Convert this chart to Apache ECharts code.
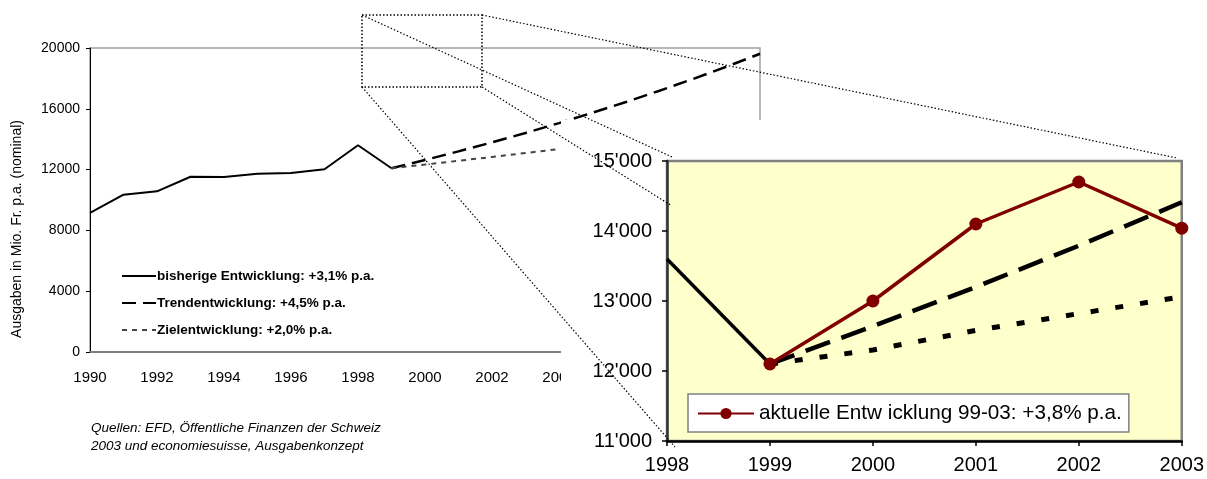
<!DOCTYPE html>
<html>
<head>
<meta charset="utf-8">
<script src="https://cdn.jsdelivr.net/npm/echarts@6/dist/echarts.min.js"></script>
<style>
html,body{margin:0;padding:0;background:#fff;}
#c{width:1207px;height:479px;}
</style>
</head>
<body>
<div id="c"></div>
<script>
// ---- data: main chart ----
const histYears = [1990,1991,1992,1993,1994,1995,1996,1997,1998,1999];
const histValues = [9160,10350,10570,11530,11510,11730,11780,12020,13600,12090];
const trendYears = [1999,2000,2001,2002,2003,2004,2005,2006,2007,2008,2009,2010];
const trendValues = [12090,12630,13200,13790,14410,15060,15740,16450,17190,17960,18770,19620];
const zielYears = [1999,2000,2001,2002,2003,2004];
const zielValues = [12090,12330,12580,12830,13090,13350];
const mainYTicks = [0,4000,8000,12000,16000,20000];
const mainXTicks = [1990,1992,1994,1996,1998,2000,2002,2004,2006,2008,2010];

// ---- data: inset (zoom) chart ----
const insetYears = [1998,1999,2000,2001,2002,2003];
const insetHist = [13600,12100,null,null,null,null];
const insetTrend = [null,12100,12640,13200,13790,14410];
const insetZiel = [null,12100,12300,12580,12820,13060];
const insetAktuell = [null,12100,13000,14100,14700,14040];
const insetYTicks = [11000,12000,13000,14000,15000];

const names = {
  hist: 'bisherige Entwicklung: +3,1% p.a.',
  trend: 'Trendentwicklung: +4,5% p.a.',
  ziel: 'Zielentwicklung: +2,0% p.a.',
  akt: 'aktuelle Entw icklung 99-03: +3,8% p.a.'
};
const pairs = (xs, ys) => xs.map((x, i) => [x, ys[i]]).filter(p => p[1] !== null);
const FONT = 'Arial, "Liberation Sans", sans-serif';
const plain = v => String(v);

const chart = echarts.init(document.getElementById('c'), null, {renderer: 'canvas'});
chart.setOption({
  animation: false,
  backgroundColor: '#fff',
  textStyle: {fontFamily: FONT, color: '#000'},
  grid: [
    {left: 90, top: 48, width: 670, height: 304, show: true, borderColor: '#a0a0a0', borderWidth: 1.5, backgroundColor: 'transparent', z: 0},
    {left: 667, top: 161, width: 515, height: 280, show: true, borderColor: '#808080', borderWidth: 2.5, backgroundColor: '#FFFFCC', z: 10}
  ],
  xAxis: [
    {gridIndex: 0, type: 'value', min: mainXTicks[0], max: mainXTicks[mainXTicks.length-1], interval: 2,
     axisLine: {show: true, lineStyle: {color: '#808080', width: 2}}, axisTick: {show: false},
     splitLine: {show: false},
     axisLabel: {fontSize: 15, color: '#000', margin: 18, fontFamily: FONT, formatter: plain}},
    {gridIndex: 1, type: 'value', min: insetYears[0], max: insetYears[insetYears.length-1], interval: 1, z: 11,
     axisLine: {show: true, onZero: false, lineStyle: {color: '#000', width: 2.5}},
     axisTick: {show: true, length: 5, lineStyle: {color: '#000', width: 1.5}},
     splitLine: {show: false},
     axisLabel: {fontSize: 20, color: '#000', margin: 14, fontFamily: FONT, formatter: plain}}
  ],
  yAxis: [
    {gridIndex: 0, type: 'value', min: mainYTicks[0], max: mainYTicks[mainYTicks.length-1], interval: 4000,
     axisLine: {show: true, lineStyle: {color: '#000', width: 1}},
     axisTick: {show: true, length: 4, lineStyle: {color: '#000'}},
     splitLine: {show: false},
     axisLabel: {fontSize: 14, color: '#000', margin: 10, fontFamily: FONT, formatter: plain}},
    {gridIndex: 1, type: 'value', min: insetYTicks[0], max: insetYTicks[insetYTicks.length-1], interval: 1000, z: 11,
     axisLine: {show: true, onZero: false, lineStyle: {color: '#333', width: 2.5}},
     axisTick: {show: true, length: 5, lineStyle: {color: '#000', width: 1.5}},
     splitLine: {show: false},
     axisLabel: {fontSize: 20, color: '#000', margin: 15, fontFamily: FONT,
       formatter: v => String(v).replace(/(\d+)(\d{3})$/, "$1'$2")}}
  ],
  legend: [
    {orient: 'vertical', left: 116, top: 264, itemWidth: 34, itemHeight: 10, itemGap: 13,
     data: [names.hist, names.trend, names.ziel], selectedMode: false,
     itemStyle: {opacity: 0},
     textStyle: {fontSize: 13.5, fontWeight: 'bold', color: '#000', fontFamily: FONT, padding: [0,0,0,-4]}},
    {left: 688, top: 394, itemWidth: 56, itemHeight: 14, padding: [9, 7, 8, 9],
     data: [names.akt], selectedMode: false, backgroundColor: '#fff',
     borderColor: '#808080', borderWidth: 1.5, z: 13,
     textStyle: {fontSize: 20.7, color: '#000', fontFamily: FONT}}
  ],
  series: [
    {name: names.hist, type: 'line', xAxisIndex: 0, yAxisIndex: 0, data: pairs(histYears, histValues),
     symbol: 'none', lineStyle: {color: '#000', width: 2}, itemStyle: {color: '#000'}, z: 2},
    {name: names.trend, type: 'line', xAxisIndex: 0, yAxisIndex: 0, data: pairs(trendYears, trendValues),
     symbol: 'none', lineStyle: {color: '#000', width: 2.5, type: [14, 7]}, itemStyle: {color: '#000'}, z: 2},
    {name: names.ziel, type: 'line', xAxisIndex: 0, yAxisIndex: 0, data: pairs(zielYears, zielValues),
     symbol: 'none', lineStyle: {color: '#444', width: 2, type: [5, 5]}, itemStyle: {color: '#444'}, z: 2},

    {name: 'inset-hist', type: 'line', xAxisIndex: 1, yAxisIndex: 1, data: pairs(insetYears, insetHist),
     symbol: 'none', lineStyle: {color: '#000', width: 3.5}, z: 12},
    {name: 'inset-trend', type: 'line', xAxisIndex: 1, yAxisIndex: 1, data: pairs(insetYears, insetTrend),
     symbol: 'none', lineStyle: {color: '#000', width: 4.5, type: [26, 12]}, z: 12},
    {name: 'inset-ziel', type: 'line', xAxisIndex: 1, yAxisIndex: 1, data: pairs(insetYears, insetZiel),
     symbol: 'none', lineStyle: {color: '#000', width: 5, type: [8, 17]}, z: 12},
    {name: names.akt, type: 'line', xAxisIndex: 1, yAxisIndex: 1, data: pairs(insetYears, insetAktuell),
     symbol: 'circle', symbolSize: 13, lineStyle: {color: '#800000', width: 3.5},
     itemStyle: {color: '#800000'}, z: 13}
  ],
  graphic: [
    {type: 'rect', shape: {x: 561, y: 120, width: 660, height: 370}, style: {fill: '#fff'}, z: 5, silent: true},
    {type: 'rect', shape: {x: 362, y: 15, width: 120, height: 72}, style: {fill: 'none', stroke: '#000', lineWidth: 1.5, lineDash: [1.5, 2]}, z: 30, silent: true},
    {type: 'line', shape: {x1: 362, y1: 15, x2: 672, y2: 157}, style: {stroke: '#000', lineWidth: 1.2, lineDash: [1.5, 2]}, z: 30, silent: true},
    {type: 'line', shape: {x1: 482, y1: 15, x2: 1177, y2: 158}, style: {stroke: '#000', lineWidth: 1.2, lineDash: [1.5, 2]}, z: 30, silent: true},
    {type: 'line', shape: {x1: 362, y1: 87, x2: 675, y2: 447}, style: {stroke: '#000', lineWidth: 1.2, lineDash: [1.5, 2]}, z: 30, silent: true},
    {type: 'line', shape: {x1: 482, y1: 87, x2: 672, y2: 206}, style: {stroke: '#000', lineWidth: 1.2, lineDash: [1.5, 2]}, z: 30, silent: true},
    {type: 'text', x: 17, y: 229, rotation: Math.PI / 2, z: 3,
     style: {text: 'Ausgaben in Mio. Fr. p.a. (nominal)', fontSize: 14, fontFamily: FONT, fill: '#000', align: 'center', verticalAlign: 'middle'}},
    {type: 'text', x: 91, y: 419, z: 3,
     style: {text: 'Quellen: EFD, Öffentliche Finanzen der Schweiz\n2003 und economiesuisse, Ausgabenkonzept', fontSize: 13.5, fontStyle: 'italic', fontFamily: FONT, fill: '#000', lineHeight: 18}}
  ]
});
</script>
</body>
</html>
